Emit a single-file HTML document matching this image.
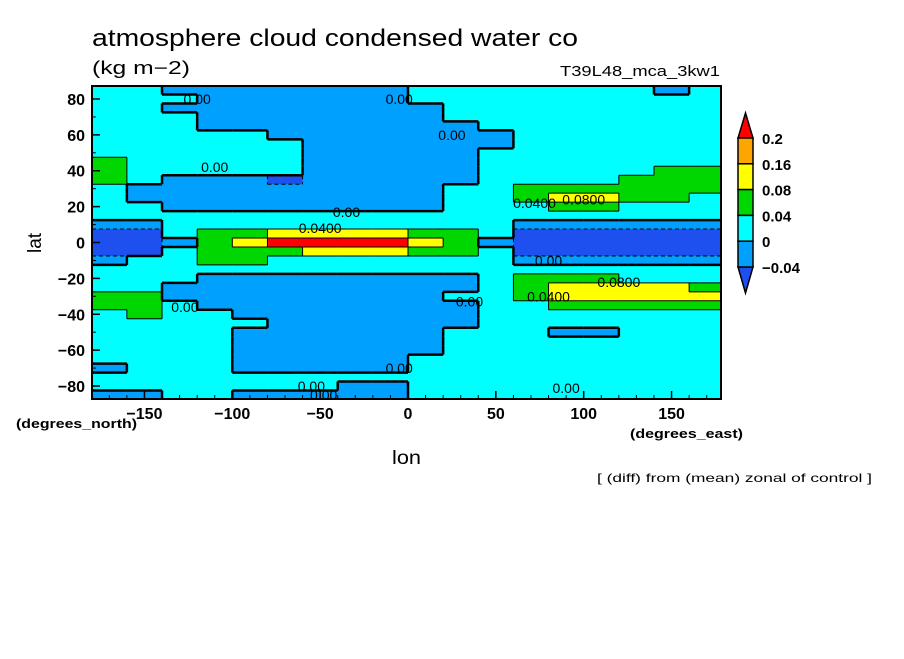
<!DOCTYPE html>
<html><head><meta charset="utf-8"><style>
body{margin:0;background:#fff;}
svg text{font-family:"Liberation Sans",sans-serif;}
</style></head><body>
<svg id="chart" width="904" height="654" viewBox="0 0 904 654" xmlns="http://www.w3.org/2000/svg">
<rect width="904" height="654" fill="#fff"/>
<text x="92" y="46" font-size="24" textLength="486" lengthAdjust="spacingAndGlyphs">atmosphere cloud condensed water co</text>
<text x="92" y="74" font-size="18" textLength="98" lengthAdjust="spacingAndGlyphs">(kg m−2)</text>
<text x="560" y="76" font-size="15" textLength="160" lengthAdjust="spacingAndGlyphs">T39L48_mca_3kw1</text>
<g id="cells"></g>
<g id="contours"></g>
<g id="clabels"></g>
<rect x="92" y="86" width="629" height="313" fill="none" stroke="#000" stroke-width="2"/>
<g id="axes"></g>
<text transform="translate(41,243) rotate(-90)" font-size="19" text-anchor="middle">lat</text>
<text x="392" y="464" font-size="19" textLength="29" lengthAdjust="spacingAndGlyphs">lon</text>
<text x="16" y="428" font-size="13" font-weight="bold" textLength="121" lengthAdjust="spacingAndGlyphs">(degrees_north)</text>
<text x="630" y="438" font-size="13" font-weight="bold" textLength="113" lengthAdjust="spacingAndGlyphs">(degrees_east)</text>
<text x="597" y="482" font-size="12" textLength="275" lengthAdjust="spacingAndGlyphs">[ (diff) from (mean) zonal of control ]</text>
<g id="colorbar"></g>
</svg>
<script>
const lons=[-170,-150,-130,-110,-90,-70,-50,-30,-10,10,30,50,70,90,110,130,150,170];
const lats=[85,80,75,70,65,60,55,50,45,40,35,30,25,20,15,10,5,0,-5,-10,-15,-20,-25,-30,-35,-40,-45,-50,-55,-60,-65,-70,-75,-80,-85];
const D=-0.05,B=-0.02,C=0.02,G=0.06,Y=0.1,O=0.18,R=0.25;
const values=[
[C,C,B,B,B,B,B,B,B,C,C,C,C,C,C,C,B,C],
[C,C,C,B,B,B,B,B,B,C,C,C,C,C,C,C,C,C],
[C,C,B,B,B,B,B,B,B,B,C,C,C,C,C,C,C,C],
[C,C,C,B,B,B,B,B,B,B,C,C,C,C,C,C,C,C],
[C,C,C,B,B,B,B,B,B,B,B,C,C,C,C,C,C,C],
[C,C,C,C,C,B,B,B,B,B,B,B,C,C,C,C,C,C],
[C,C,C,C,C,C,B,B,B,B,B,B,C,C,C,C,C,C],
[C,C,C,C,C,C,B,B,B,B,B,C,C,C,C,C,C,C],
[G,C,C,C,C,C,B,B,B,B,B,C,C,C,C,C,C,C],
[G,C,C,C,C,C,B,B,B,B,B,C,C,C,C,C,G,G],
[G,C,B,B,B,D,B,B,B,B,B,C,C,C,C,G,G,G],
[C,B,B,B,B,B,B,B,B,B,C,C,G,G,G,G,G,G],
[C,B,B,B,B,B,B,B,B,B,C,C,G,Y,Y,G,G,C],
[C,C,B,B,B,B,B,B,B,B,C,C,C,G,G,C,C,C],
[C,C,C,C,C,C,C,C,C,C,C,C,C,C,C,C,C,C],
[B,B,C,C,C,C,C,C,C,C,C,C,B,B,B,B,B,B],
[D,D,C,G,G,Y,Y,Y,Y,G,G,C,D,D,D,D,D,D],
[D,D,B,G,Y,R,R,R,R,Y,G,B,D,D,D,D,D,D],
[D,D,C,G,G,G,Y,Y,Y,G,G,C,D,D,D,D,D,D],
[B,C,C,G,G,C,C,C,C,C,C,C,B,B,B,B,B,B],
[C,C,C,C,C,C,C,C,C,C,C,C,C,C,C,C,C,C],
[C,C,C,B,B,B,B,B,B,B,B,C,G,G,G,C,C,C],
[C,C,B,B,B,B,B,B,B,B,B,C,G,Y,Y,Y,Y,G],
[G,G,B,B,B,B,B,B,B,B,C,C,G,Y,Y,Y,Y,Y],
[G,G,C,B,B,B,B,B,B,B,B,C,C,G,G,G,G,G],
[C,G,C,C,B,B,B,B,B,B,B,C,C,C,C,C,C,C],
[C,C,C,C,C,B,B,B,B,B,B,C,C,C,C,C,C,C],
[C,C,C,C,B,B,B,B,B,B,C,C,C,B,B,C,C,C],
[C,C,C,C,B,B,B,B,B,B,C,C,C,C,C,C,C,C],
[C,C,C,C,B,B,B,B,B,B,C,C,C,C,C,C,C,C],
[C,C,C,C,B,B,B,B,B,C,C,C,C,C,C,C,C,C],
[B,C,C,C,B,B,B,B,B,C,C,C,C,C,C,C,C,C],
[C,C,C,C,C,C,C,C,C,C,C,C,C,C,C,C,C,C],
[C,C,C,C,C,C,C,B,B,C,C,C,C,C,C,C,C,C],
[B,B,C,C,B,B,B,B,B,C,C,C,C,C,C,C,C,C]
];
const levels=[-0.04,0,0.04,0.08,0.16,0.2];
const levelLabels=["-0.04","0","0.04","0.08","0.16","0.2"];
const colors=["#1e50f0","#00a0ff","#00ffff","#00d700","#ffff00","#ffa500","#ff0000"];
const xTicks=[-150,-100,-50,0,50,100,150];
const yTicks=[80,60,40,20,0,-20,-40,-60,-80];
const NS="http://www.w3.org/2000/svg";
const X0=92,X1=721,Y0=86,Y1=399;
function xs(lon){return 408+lon*1.757;}
function ys(lat){return 242.5-lat*1.794;}
function lvl(v){let i=0;while(i<levels.length&&v>=levels[i])i++;return i;}
function mk(tag,attrs,parent){const e=document.createElementNS(NS,tag);for(const k in attrs)e.setAttribute(k,attrs[k]);parent.appendChild(e);return e;}
const cells=document.getElementById('cells');
const dlon=20,dlat=5;
function cx0(j){return Math.max(X0,xs(lons[j]-dlon/2));}
function cx1(j){return Math.min(X1,xs(lons[j]+dlon/2));}
function cy0(i){return Math.max(Y0,ys(lats[i]+dlat/2));}
function cy1(i){return Math.min(Y1,ys(lats[i]-dlat/2));}
for(let i=0;i<lats.length;i++){for(let j=0;j<lons.length;j++){
  const x=cx0(j),y=cy0(i);
  const r=mk('rect',{x:x,y:y,width:cx1(j)-x+0.5,height:cy1(i)-y+0.5,fill:colors[lvl(values[i][j])]},cells);
  
  
}}
const cont=document.getElementById('contours');
for(let i=0;i<lats.length;i++){for(let j=0;j<lons.length;j++){
  const v=values[i][j];
  if(j+1<lons.length){const w=values[i][j+1];if(lvl(v)!==lvl(w)){const thick=(v<0)!==(w<0);
    const l=mk('line',{x1:cx1(j),x2:cx1(j),y1:cy0(i),y2:cy1(i),stroke:'#000','stroke-width':thick?2.5:1,'stroke-dasharray':(v<0&&w<0)?'4 3':'none'},cont);
    
    }}
  if(i+1<lats.length){const w=values[i+1][j];if(lvl(v)!==lvl(w)){const thick=(v<0)!==(w<0);
    const l=mk('line',{x1:cx0(j),x2:cx1(j),y1:cy1(i),y2:cy1(i),stroke:'#000','stroke-width':thick?2.5:1,'stroke-dasharray':(v<0&&w<0)?'4 3':'none'},cont);
    
    }}
}}
const labelText=["0.00","0.00","0.00","0.00","0.00","0.0400","0.0800","0.0400","0.00","0.0400","0.0800","0.00","0.00","0.00","0.00","0.00","0.00"];
const labelLon=[-120,-5,25,-110,-35,-50,100,72,80,80,120,35,-127,-5,-55,-48,90];
const labelLat=[80,80,60,42,17,8,24,22,-10,-30,-22,-33,-36,-70,-80,-85,-81];
const cl=document.getElementById('clabels');
for(let k=0;k<labelText.length;k++){
  const t=mk('text',{x:xs(labelLon[k]),y:ys(labelLat[k])+5,'font-size':14,'text-anchor':'middle'},cl);
  t.textContent=labelText[k];
  
  
}
const ax=document.getElementById('axes');
for(let v=-170;v<=170;v+=10){
  const l=mk('line',{x1:xs(v),x2:xs(v),y1:Y1,y2:Y1-4,stroke:'#000','stroke-width':1},ax);
  
  
}
for(let v=-80;v<=80;v+=10){
  const l=mk('line',{x1:X0,x2:X0+4,y1:ys(v),y2:ys(v),stroke:'#000','stroke-width':1},ax);
  
  
}
xTicks.forEach(v=>{
  const l=mk('line',{x1:xs(v),x2:xs(v),y1:Y1,y2:Y1-8,stroke:'#000','stroke-width':1.5},ax);
  
  
  const t=mk('text',{x:xs(v),y:419,'font-size':16,'font-weight':'bold','text-anchor':'middle'},ax);
  t.textContent=v<0?'\u2212'+(-v):String(v);
  
  
});
yTicks.forEach(v=>{
  const l=mk('line',{x1:X0,x2:X0+8,y1:ys(v),y2:ys(v),stroke:'#000','stroke-width':1.5},ax);
  
  
  const t=mk('text',{x:85,y:ys(v)+6,'font-size':16,'font-weight':'bold','text-anchor':'end'},ax);
  t.textContent=v<0?'\u2212'+(-v):String(v);
  
  
});
const cb=document.getElementById('colorbar');
const cbX0=738,cbX1=753,cbTop=138,cbStep=25.8;
const nIn=levels.length-1;
const cbBot=cbTop+nIn*cbStep;
let p=mk('polygon',{points:`${cbX0},${cbTop} ${cbX1},${cbTop} ${(cbX0+cbX1)/2},113`,fill:colors[6],stroke:'#000','stroke-width':1.5},cb);


p=mk('polygon',{points:`${cbX0},${cbBot} ${cbX1},${cbBot} ${(cbX0+cbX1)/2},293`,fill:colors[0],stroke:'#000','stroke-width':1.5},cb);


for(let k=0;k<nIn;k++){
  const r=mk('rect',{x:cbX0,y:cbTop+k*cbStep,width:cbX1-cbX0,height:cbStep,fill:colors[nIn-k],stroke:'#000','stroke-width':1.5},cb);
  
  
}
for(let k=0;k<levels.length;k++){
  const t=mk('text',{x:762,y:cbTop+(levels.length-1-k)*cbStep+6,'font-size':15,'font-weight':'bold'},cb);
  t.textContent=levelLabels[k].replace('-','\u2212');
  
  
}
</script>
</body></html>
